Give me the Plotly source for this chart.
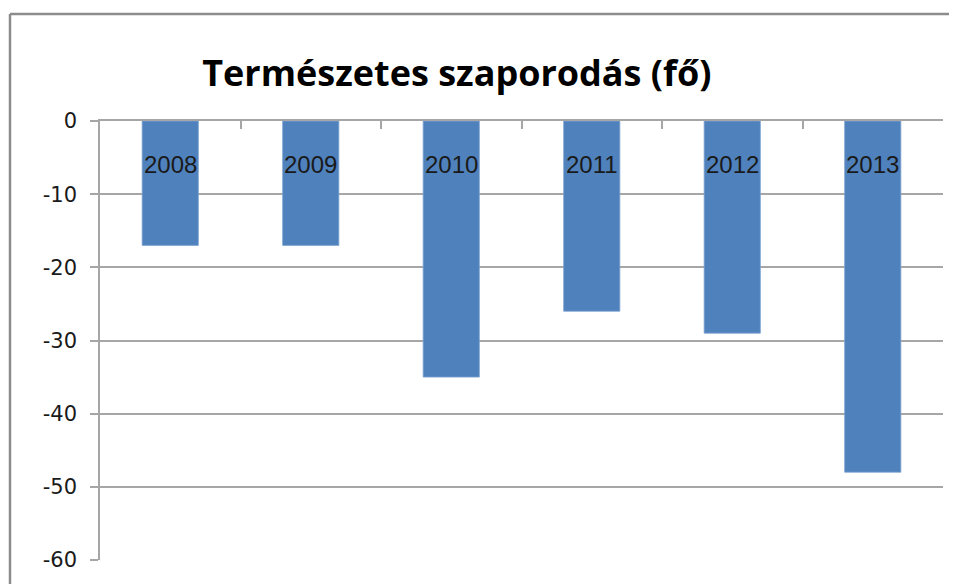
import plotly.graph_objects as go

years = ['2008', '2009', '2010', '2011', '2012', '2013']
natural_increase = [-17, -17, -35, -26, -29, -48]
y_ticks = [0, -10, -20, -30, -40, -50, -60]

bar_color = '#4F81BD'
grid_color = '#a6a6a6'
frame_color = '#8c8c8c'

# page body adds an 8px offset, so the figure is sized to fit what is left
W, H = 949, 576
margin = {'l': 92, 'r': 14, 't': 113, 'b': 24}
plot_w = W - margin['l'] - margin['r']
plot_h = H - margin['t'] - margin['b']

fig = go.Figure()
fig.add_trace(go.Bar(
    x=years,
    y=natural_increase,
    width=0.4,
    marker={'color': bar_color, 'line': {'color': '#7fa3d1', 'width': 0.8}},
    hovertemplate='%{x}: %{y}<extra></extra>',
))

# category labels sit inside the plot, just under the zero line
# (index positions, a numeric-looking string would be read as a coordinate)
for i, yr in enumerate(years):
    fig.add_annotation(x=i, y=-6, text=yr, showarrow=False,
                       font={'family': 'Liberation Sans', 'size': 24, 'color': '#1a1a1a'})

# outer chart frame: only left and top edges are in view
fx0 = (2 - margin['l']) / plot_w
fx1 = (W - margin['l']) / plot_w
fy0 = -margin['b'] / plot_h
fy1 = 1 + (margin['t'] - 6) / plot_h
fig.add_shape(type='line', xref='paper', yref='paper',
              x0=fx0, x1=fx0, y0=fy0, y1=fy1,
              line={'color': frame_color, 'width': 2.5})
fig.add_shape(type='line', xref='paper', yref='paper',
              x0=fx0, x1=fx1, y0=fy1, y1=fy1,
              line={'color': frame_color, 'width': 2.5})

fig.update_layout(
    width=W,
    height=H,
    margin={**margin, 'autoexpand': False},
    plot_bgcolor='white',
    paper_bgcolor='white',
    showlegend=False,
    title={'text': '<b>Természetes szaporodás (fő)</b>', 'x': 0.473, 'xanchor': 'center',
           'y': 0.886, 'yanchor': 'middle',
           'font': {'family': 'Open Sans', 'size': 36, 'color': 'black'}},
    xaxis={
        'side': 'top', 'range': [-0.5, 5.5], 'type': 'category', 'automargin': False,
        'showticklabels': False, 'showgrid': False,
        'showline': True, 'linecolor': grid_color, 'linewidth': 1.5,
        'ticks': 'inside', 'tickson': 'boundaries', 'ticklen': 8,
        'tickcolor': grid_color, 'tickwidth': 1.5,
    },
    yaxis={
        'range': [-60, 0], 'tickvals': y_ticks, 'ticktext': [str(v) for v in y_ticks],
        'automargin': False,
        'showgrid': True, 'gridcolor': grid_color, 'gridwidth': 1.5,
        'zeroline': False,
        'showline': True, 'linecolor': grid_color, 'linewidth': 1.5,
        'ticks': 'outside', 'ticklen': 8, 'tickcolor': grid_color, 'tickwidth': 1.5,
        'ticklabelstandoff': 9,
        'tickfont': {'family': 'DejaVu Sans', 'size': 21, 'color': '#1a1a1a'},
    },
)

fig.write_html('out.html', config={'displayModeBar': False})
